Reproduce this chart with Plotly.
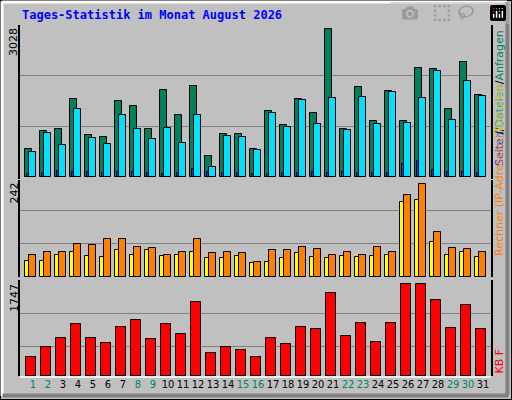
import plotly.graph_objects as go

days = list(range(1, 32))
weekend = [1, 2, 8, 9, 15, 16, 22, 23, 29, 30]
hits = [569, 939, 980, 1596, 857, 815, 1555, 1452, 980, 1781, 1267, 1863, 425, 877, 877, 569,
        1349, 1062, 1596, 1308, 3028, 974, 1836, 1138, 1754, 1138, 2227, 2206, 1384, 2350, 1672]
files = [501, 891, 645, 1384, 789, 665, 1261, 974, 768, 994, 686, 1261, 193, 830, 809, 542,
         1302, 1015, 1569, 1076, 1610, 953, 1631, 1076, 1734, 1097, 1610, 2165, 1158, 1959, 1651]
pages = [60, 70, 110, 100, 105, 85, 90, 105, 85, 65, 80, 150, 95, 70, 75, 60,
         60, 70, 80, 100, 80, 90, 70, 80, 70, 260, 330, 140, 100, 90, 70]
visits = [40, 40, 58, 66, 53, 51, 69, 58, 69, 53, 56, 66, 48, 48, 53, 35,
          38, 48, 61, 51, 48, 53, 51, 53, 56, 195, 202, 90, 56, 64, 51]
sites = [56, 66, 66, 85, 82, 100, 98, 77, 74, 58, 66, 98, 61, 64, 61, 38,
         69, 69, 77, 72, 56, 66, 56, 77, 64, 213, 242, 116, 74, 72, 64]
kbytes = [350, 542, 714, 982, 714, 618, 925, 1058, 695, 982, 791, 1403, 427, 542, 484, 350,
          714, 599, 925, 886, 1575, 752, 1001, 637, 1001, 1747, 1747, 1441, 905, 1345, 886]

U = 15.0  # px per day
line = dict(color="black", width=1)

def bar(y, color, off_px, w_px, yaxis):
    return go.Bar(x=days, y=y, marker=dict(color=color, line=line), offset=off_px / U,
                  width=[w_px / U] * 31, xaxis="x", yaxis=yaxis, showlegend=False, hoverinfo="skip")

fig = go.Figure()
fig.add_trace(bar(hits, "#00805C", -5.7, 7, "y"))
fig.add_trace(bar(files, "#00E0FF", -1.7, 7, "y"))
fig.add_trace(bar(pages, "#0040FF", -3.7, 2, "y"))
fig.add_trace(bar(visits, "#FFFF00", -5.7, 4, "y2"))
fig.add_trace(bar(sites, "#FF8000", -1.7, 7, "y2"))
fig.add_trace(bar(kbytes, "#FF0000", -4.7, 10, "y3"))

W, H = 512, 400
def dom(top, bot):
    return [1 - bot / H, 1 - top / H]

x0 = 1 - 11 / U
xdom = [20 / W, 491 / W]
ax_common = dict(showline=True, mirror=True, linecolor="black", linewidth=1.5,
                 showticklabels=False, ticks="", zeroline=False,
                 gridcolor="#808080", gridwidth=1, fixedrange=True)

tickt = [f'<span style="color:{"#008060" if d in weekend else "black"}">{d}</span>' for d in days]
fig.update_layout(
    width=W, height=H, margin=dict(l=0, r=0, t=0, b=0),
    paper_bgcolor="#C0C0C0", plot_bgcolor="#C0C0C0", barmode="overlay", bargap=0,
    font=dict(family="DejaVu Sans", size=11, color="black"),
    xaxis=dict(domain=xdom, range=[x0, x0 + 471 / U], anchor="y3", showline=False,
               showgrid=False, zeroline=False, tickvals=[d + 2 / U for d in days],
               ticktext=tickt, ticks="", tickangle=0, fixedrange=True,
               tickfont=dict(size=11, family="DejaVu Sans Condensed")),
    yaxis=dict(domain=dom(25, 179), range=[-2.3 * 20.54, 151.7 * 20.54],
               tickvals=[1027, 2075], **ax_common),
    yaxis2=dict(domain=dom(180, 277), range=[-0.3 * 2.619, 96.7 * 2.619],
                tickvals=[86.4, 173], **ax_common),
    yaxis3=dict(domain=dom(280, 376), range=[-0.3 * 19.13, 95.7 * 19.13],
                tickvals=[568, 1194], **ax_common),
)
fig.add_shape(type="line", xref="paper", yref="paper", x0=xdom[0], x1=xdom[1],
              y0=1 - 377 / H, y1=1 - 377 / H, line=dict(color="white", width=1.5))

# outer bevel frame
fig.add_shape(type="rect", xref="paper", yref="paper", x0=0, x1=1, y0=0, y1=1,
              line=dict(color="black", width=2), layer="above")
fig.add_shape(type="line", xref="paper", yref="paper", x0=0.004, x1=0.004, y0=0.01, y1=0.996,
              line=dict(color="white", width=3))
fig.add_shape(type="line", xref="paper", yref="paper", x0=0.004, x1=0.99, y0=0.995, y1=0.995,
              line=dict(color="white", width=3))
fig.add_shape(type="line", xref="paper", yref="paper", x0=0.991, x1=0.991, y0=0.012, y1=0.995,
              line=dict(color="#808080", width=4))
fig.add_shape(type="line", xref="paper", yref="paper", x0=0.005, x1=0.993, y0=0.011, y1=0.011,
              line=dict(color="#808080", width=4))

fig.add_annotation(text="<b>Tages-Statistik im Monat August 2026</b>", xref="paper", yref="paper",
                   x=20 / W, y=1 - 15 / H, xanchor="left", yanchor="middle", showarrow=False,
                   font=dict(family="DejaVu Sans Mono", size=12, color="#0000FF"))
for lab, ytop in [("3028", 26), ("242", 181), ("1747", 282)]:
    fig.add_annotation(text=lab, xref="paper", yref="paper", x=14 / W, y=1 - ytop / H,
                       xanchor="center", yanchor="top", textangle=-90, showarrow=False,
                       font=dict(family="DejaVu Sans", size=11, color="black"))

fig.add_annotation(text='<span style="color:#0040FF">Seiten</span>/<span style="color:#00A0D0">Dateien</span>/<span style="color:#008060">Anfragen</span>',
                   xref="paper", yref="paper", x=499 / W, y=1 - 28 / H, xanchor="center",
                   yanchor="top", textangle=-90, showarrow=False, font=dict(size=11))
fig.add_annotation(text='<span style="color:#FF8000">Rechner (IP-Adressen)</span>/<span style="color:#E0C000">Besuche</span>',
                   xref="paper", yref="paper", x=499 / W, y=1 - 258 / H, xanchor="center",
                   yanchor="bottom", textangle=-90, showarrow=False, font=dict(size=11))
fig.add_annotation(text='<span style="color:#FF0000">KB F</span>', xref="paper", yref="paper",
                   x=499 / W, y=1 - 376 / H, xanchor="center", yanchor="bottom", textangle=-90,
                   showarrow=False, font=dict(size=11))

fig.write_html("out.html")
with open("out.html", encoding="utf-8") as f:
    html = f.read()
html = html.replace("<body>", '<body style="margin:0;padding:0;overflow:hidden">', 1)
with open("out.html", "w", encoding="utf-8") as f:
    f.write(html)
